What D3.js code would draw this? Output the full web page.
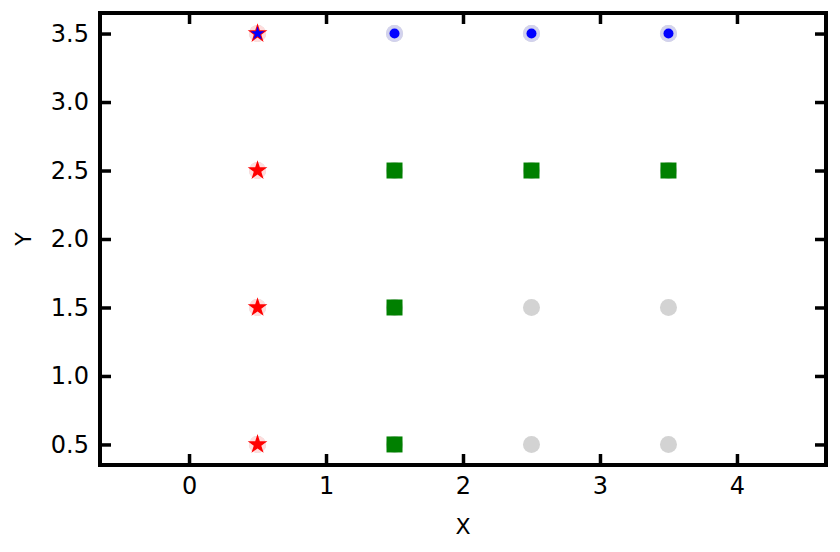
<!DOCTYPE html>
<html>
<head>
<meta charset="utf-8">
<script src="https://cdn.jsdelivr.net/npm/d3@7"></script>
<style>
  body { margin: 0; background: #fff; }
  text { font-family: "DejaVu Sans", sans-serif; }
</style>
</head>
<body>
<div id="chart"></div>
<script>
// data
const xTicks = [0, 1, 2, 3, 4];
const yTicks = [0.5, 1.0, 1.5, 2.0, 2.5, 3.0, 3.5];
const grayX = [0.5, 1.5, 2.5, 3.5];
const grayY = [0.5, 1.5, 2.5, 3.5];
const redStars = [[0.5, 0.5], [0.5, 1.5], [0.5, 2.5], [0.5, 3.5]];
const greenSquares = [[1.5, 0.5], [1.5, 1.5], [1.5, 2.5], [2.5, 2.5], [3.5, 2.5]];
const blueDots = [[1.5, 3.5], [2.5, 3.5], [3.5, 3.5]];
const blueStars = [[0.5, 3.5]];

var width = 840, height = 552;
var margin = {top: 13, right: 14, bottom: 87, left: 100};

var svg = d3.select("#chart")
  .append("svg")
    .attr("width", width)
    .attr("height", height);

var x = d3.scaleLinear()
  .domain([-0.65, 4.65])
  .range([margin.left, width - margin.right]);
var y = d3.scaleLinear()
  .domain([0.35, 3.65])
  .range([height - margin.bottom, margin.top]);

var plot = svg.append("g");

// grey circles in every cell
var grayPts = [];
grayX.forEach(a => grayY.forEach(b => grayPts.push([a, b])));
plot.selectAll(".gray")
  .data(grayPts)
  .enter()
  .append("circle")
    .attr("cx", d => x(d[0]))
    .attr("cy", d => y(d[1]))
    .attr("r", 8.5)
    .attr("fill", "#d3d3d3");

// faint halos
plot.selectAll(".halo-red")
  .data(redStars)
  .enter()
  .append("circle")
    .attr("cx", d => x(d[0]))
    .attr("cy", d => y(d[1]))
    .attr("r", 8.5)
    .attr("fill", "#ffdcdc");
plot.selectAll(".halo-blue")
  .data(blueDots)
  .enter()
  .append("circle")
    .attr("cx", d => x(d[0]))
    .attr("cy", d => y(d[1]))
    .attr("r", 8.5)
    .attr("fill", "#d2d2ee");

plot.selectAll(".square")
  .data(greenSquares)
  .enter()
  .append("path")
    .attr("transform", d => "translate(" + x(d[0]) + "," + y(d[1]) + ")")
    .attr("d", d3.symbol().type(d3.symbolSquare).size(256))
    .attr("fill", "green");

plot.selectAll(".star")
  .data(redStars)
  .enter()
  .append("path")
    .attr("transform", d => "translate(" + x(d[0]) + "," + y(d[1]) + ")")
    .attr("d", d3.symbol().type(d3.symbolStar).size(120))
    .attr("fill", "red");

plot.selectAll(".bstar")
  .data(blueStars)
  .enter()
  .append("path")
    .attr("transform", d => "translate(" + x(d[0]) + "," + y(d[1]) + ")")
    .attr("d", d3.symbol().type(d3.symbolStar).size(60))
    .attr("fill", "blue");

plot.selectAll(".dot")
  .data(blueDots)
  .enter()
  .append("circle")
    .attr("cx", d => x(d[0]))
    .attr("cy", d => y(d[1]))
    .attr("r", 5)
    .attr("fill", "blue");

// axes, ticks inward on all sides
function styleAxis(g) {
  g.attr("font-size", 24).attr("font-family", "DejaVu Sans");
  g.select(".domain").remove();
  g.selectAll(".tick line").attr("stroke", "#000").attr("stroke-width", 3.5);
  g.selectAll(".tick text").attr("fill", "#000");
}
var yBottom = height - margin.bottom, yTop = margin.top;
var xLeft = margin.left, xRight = width - margin.right;

svg.append("g")
  .attr("transform", "translate(0," + yBottom + ")")
  .call(d3.axisBottom(x).tickValues(xTicks).tickSizeInner(-11).tickSizeOuter(0).tickPadding(12).tickFormat(d3.format("d")))
  .call(styleAxis);
svg.append("g")
  .attr("transform", "translate(0," + yTop + ")")
  .call(d3.axisTop(x).tickValues(xTicks).tickSizeInner(-11).tickSizeOuter(0).tickFormat(""))
  .call(styleAxis);
svg.append("g")
  .attr("transform", "translate(" + xLeft + ",0)")
  .call(d3.axisLeft(y).tickValues(yTicks).tickSizeInner(-11).tickSizeOuter(0).tickPadding(11).tickFormat(d3.format(".1f")))
  .call(styleAxis);
svg.append("g")
  .attr("transform", "translate(" + xRight + ",0)")
  .call(d3.axisRight(y).tickValues(yTicks).tickSizeInner(-11).tickSizeOuter(0).tickFormat(""))
  .call(styleAxis);

svg.append("rect")
  .attr("x", xLeft)
  .attr("y", yTop)
  .attr("width", xRight - xLeft)
  .attr("height", yBottom - yTop)
  .attr("fill", "none")
  .attr("stroke", "#000")
  .attr("stroke-width", 4);

svg.append("text")
  .attr("x", (xLeft + xRight) / 2)
  .attr("y", 534)
  .attr("text-anchor", "middle")
  .attr("font-size", 22)
  .text("X");
svg.append("text")
  .attr("transform", "translate(31," + (yTop + yBottom) / 2 + ") rotate(-90)")
  .attr("text-anchor", "middle")
  .attr("font-size", 22)
  .text("Y");
</script>
</body>
</html>
